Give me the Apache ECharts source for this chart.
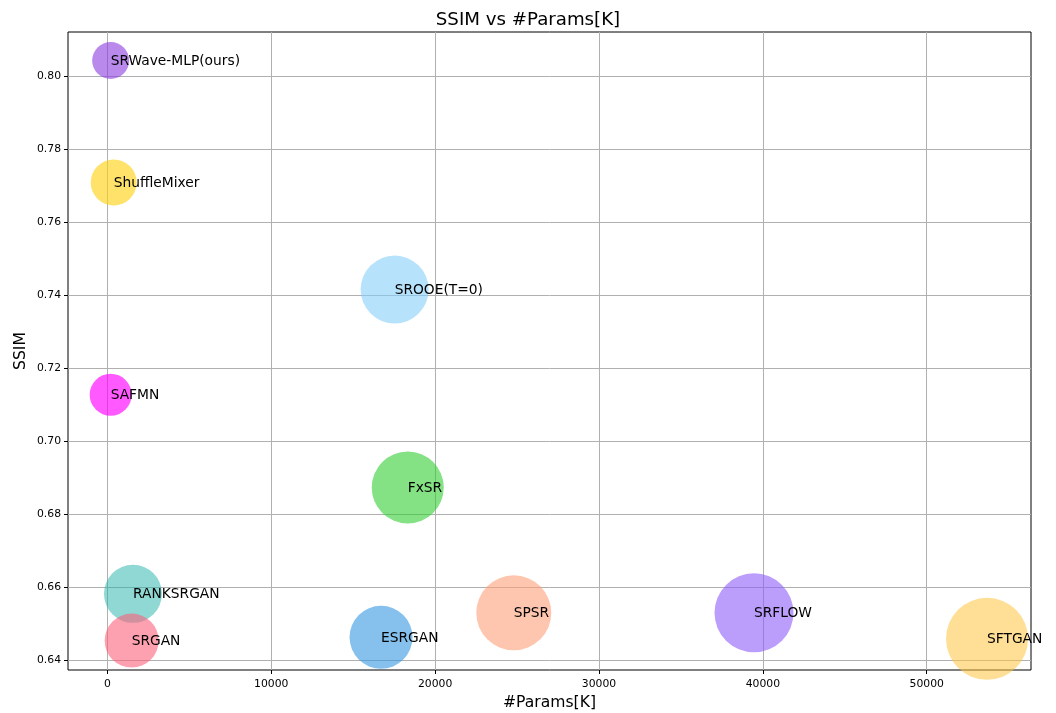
<!DOCTYPE html>
<html>
<head>
<meta charset="utf-8">
<script src="https://cdn.jsdelivr.net/npm/echarts@6/dist/echarts.min.js"></script>
<style>
  html, body { margin: 0; padding: 0; background: #fff; }
  #chart { width: 1056px; height: 713px; }
</style>
</head>
<body>
<div id="chart"></div>
<script>
// Model names, parameter counts (K) and SSIM scores
const models = ['SRWave-MLP(ours)', 'ShuffleMixer', 'SROOE(T=0)', 'SAFMN', 'FxSR',
  'RANKSRGAN', 'SRGAN', 'ESRGAN', 'SPSR', 'SRFLOW', 'SFTGAN'];
const params = [200, 385, 17530, 200, 18330, 1560, 1480, 16700, 24800, 39460, 53680];
const ssim = [0.8043, 0.7709, 0.7416, 0.7128, 0.6874, 0.6583, 0.6455, 0.6464, 0.6531, 0.6531, 0.6460];

// Bubble diameters (px) and semi-transparent fill colours
const markerSize = [37, 46, 68, 42, 72, 58, 54, 63, 75, 79, 82];
const colors = ['rgba(138,59,224,0.6)', 'rgba(253,211,26,0.65)', 'rgba(135,206,250,0.6)',
  'rgba(255,0,255,0.65)', 'rgba(50,205,50,0.6)', 'rgba(32,178,170,0.5)',
  'rgba(252,97,122,0.6)', 'rgba(52,152,224,0.6)', 'rgba(255,160,122,0.6)',
  'rgba(142,92,248,0.6)', 'rgba(255,194,62,0.55)'];

// Axis tick values
const xTicks = [0, 10000, 20000, 30000, 40000, 50000];
const yTicks = [0.64, 0.66, 0.68, 0.70, 0.72, 0.74, 0.76, 0.78, 0.80];

const FONT = 'DejaVu Sans';
const chart = echarts.init(document.getElementById('chart'), null, { renderer: 'canvas' });

const series = models.map((name, i) => ({
  type: 'scatter',
  name: name,
  symbolSize: markerSize[i],
  itemStyle: { color: colors[i], opacity: 1 },
  label: {
    show: true,
    position: 'inside',
    align: 'left',
    verticalAlign: 'middle',
    offset: [0, 1],
    formatter: name,
    color: '#000',
    fontFamily: FONT,
    fontSize: 13.8
  },
  data: [[params[i], ssim[i]]]
}));

chart.setOption({
  animation: false,
  backgroundColor: '#fff',
  title: {
    text: 'SSIM vs #Params[K]',
    left: 'center',
    top: 6,
    textStyle: { fontFamily: FONT, fontSize: 18.2, fontWeight: 'normal', color: '#000' }
  },
  grid: {
    left: 68, right: 25, top: 32, bottom: 43,
    outerBoundsMode: 'none',
    containLabel: false,
    show: true, borderColor: '#000', borderWidth: 1
  },
  xAxis: {
    type: 'value',
    min: -2404,
    max: 56364,
    name: '#Params[K]',
    nameLocation: 'middle',
    nameGap: 25,
    nameTextStyle: { fontFamily: FONT, fontSize: 15.6, color: '#000' },
    axisLine: { show: false, onZero: false },
    axisTick: { show: true, inside: false, length: 4, customValues: xTicks, lineStyle: { color: '#000' } },
    axisLabel: {
      customValues: xTicks,
      formatter: v => String(v),
      fontFamily: FONT, fontSize: 10.8, color: '#000', margin: 9
    },
    splitLine: { show: true, lineStyle: { color: '#b0b0b0', width: 1 } }
  },
  yAxis: {
    type: 'value',
    min: 0.63745,
    max: 0.8121,
    name: 'SSIM',
    nameLocation: 'middle',
    nameGap: 39,
    nameMoveOverlap: false,
    nameTextStyle: { fontFamily: FONT, fontSize: 15.6, color: '#000' },
    axisLine: { show: false, onZero: false },
    axisTick: { show: true, inside: false, length: 4, customValues: yTicks, lineStyle: { color: '#000' } },
    axisLabel: {
      customValues: yTicks,
      formatter: v => v.toFixed(2),
      fontFamily: FONT, fontSize: 10.8, color: '#000', margin: 7
    },
    splitLine: { show: true, lineStyle: { color: '#b0b0b0', width: 1 } }
  },
  series: series
});
</script>
</body>
</html>
